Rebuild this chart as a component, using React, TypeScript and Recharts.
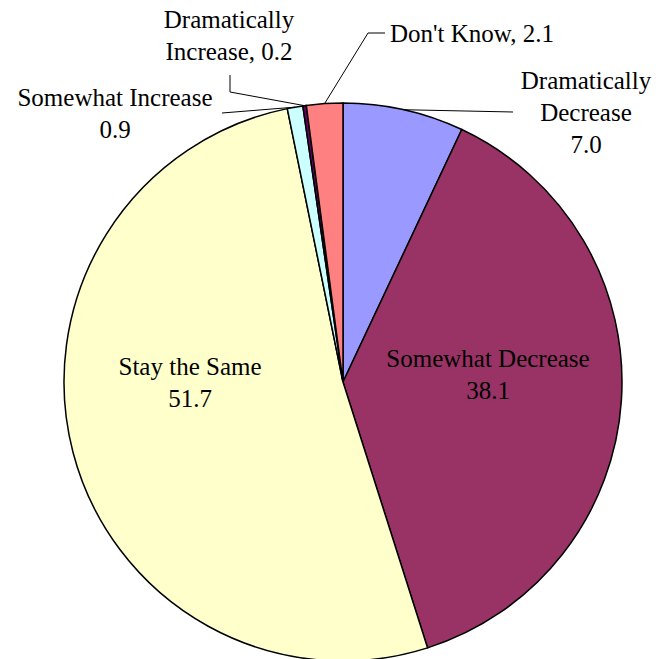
import React from 'react'
import { PieChart, Pie, Cell } from 'recharts'

const categories = ['Dramatically Decrease', 'Somewhat Decrease', 'Stay the Same', 'Somewhat Increase', 'Dramatically Increase', "Don't Know"]
const values = [7.0, 38.1, 51.7, 0.9, 0.2, 2.1]
const colors = ['#9999FF', '#993366', '#FFFFCC', '#CCFFFF', '#660066', '#FF8080']

const data = categories.map((name, i) => ({ name, value: values[i] }))

// label placement, offsets from the pie centre
const labelLayout = [
  { style: 'wrap', dx: 243, dy: -293, anchor: 'middle', path: [[170, -270]] },
  { style: 'twoLine', dx: 145, dy: -15, anchor: 'middle', path: null },
  { style: 'twoLine', dx: -153, dy: -7, anchor: 'middle', path: null },
  { style: 'twoLine', dx: -228, dy: -276, anchor: 'middle', path: [[-121, -269]] },
  { style: 'wrapComma', dx: -114, dy: -354, anchor: 'middle', path: [[-113, -290], [-113, -307]] },
  { style: 'inline', dx: 47, dy: -340, anchor: 'start', path: [[25, -349], [42, -349]] },
]

const LINE_H = 32
const RAD = Math.PI / 180
const FONT = '"Times New Roman", Tinos, "Liberation Serif", "DejaVu Serif", serif'

function labelLines(style: string, name: string, value: number) {
  const v = value.toFixed(1)
  const words = name.split(' ')
  if (style === 'wrap') return [...words, v]
  if (style === 'twoLine') return [name, v]
  if (style === 'wrapComma') return [words[0], words.slice(1).join(' ') + ', ' + v]
  return [name + ', ' + v]
}

const renderLabel = (props: any) => {
  const { cx, cy, midAngle, outerRadius, index, name, value } = props
  const lay = labelLayout[index]
  const lines = labelLines(lay.style, name, value)
  const x = cx + lay.dx
  const y = cy + lay.dy
  let line = null
  if (lay.path) {
    const ax = cx + outerRadius * Math.cos(-midAngle * RAD)
    const ay = cy + outerRadius * Math.sin(-midAngle * RAD)
    const pts = [[ax, ay], ...lay.path.map(([px, py]) => [cx + px, cy + py])]
    line = <polyline points={pts.map(p => p.join(',')).join(' ')} fill="none" stroke="#000" strokeWidth={1} />
  }
  return (
    <g key={'lbl' + index}>
      {line}
      <text x={x} y={y} textAnchor={lay.anchor} fill="#000" fontFamily={FONT} fontSize={25}>
        {lines.map((t, i) => (
          <tspan key={i} x={x} y={y + i * LINE_H}>{t}</tspan>
        ))}
      </text>
    </g>
  )
}

export default function App() {
  return (
    <div style={{ position: 'absolute', left: 0, top: 0, width: 656, height: 659, background: '#fff', fontFamily: FONT, fontSize: 25 }}>
      <PieChart width={656} height={659} margin={{ top: 0, right: 0, bottom: 0, left: 0 }}>
        <Pie
          data={data}
          dataKey="value"
          nameKey="name"
          cx={343}
          cy={382}
          outerRadius={279}
          startAngle={90}
          endAngle={-270}
          stroke="#000"
          strokeWidth={1.5}
          label={renderLabel}
          labelLine={false}
          isAnimationActive={false}
        >
          {data.map((d, i) => <Cell key={d.name} fill={colors[i]} />)}
        </Pie>
      </PieChart>
    </div>
  )
}
